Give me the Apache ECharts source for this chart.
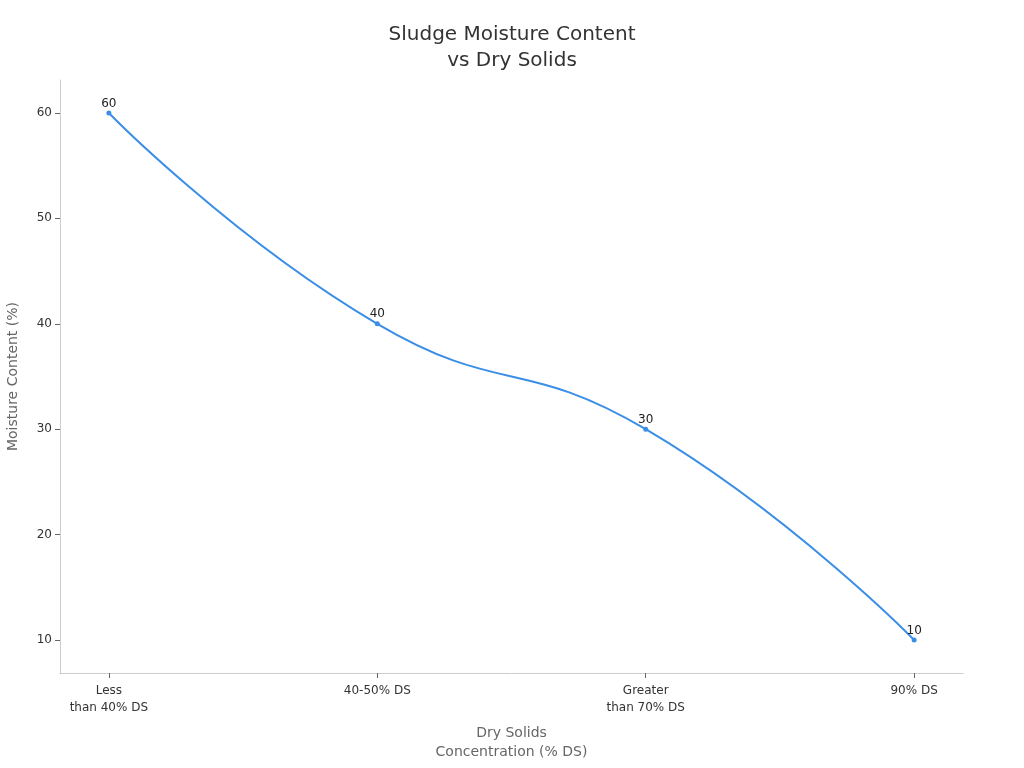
<!DOCTYPE html>
<html>
<head>
<meta charset="utf-8">
<title>Sludge Moisture Content vs Dry Solids</title>
<script src="https://cdn.jsdelivr.net/npm/echarts@6/dist/echarts.min.js"></script>
<style>
    html, body { margin: 0; padding: 0; background: #fff; }
    #chart { width: 1024px; height: 768px; }
</style>
</head>
<body>
<div id="chart"></div>
<script>
// Data
var categories = ['Less\nthan 40% DS', '40-50% DS', 'Greater\nthan 70% DS', '90% DS'];
var moisture = [60, 40, 30, 10];
var yTicks = [10, 20, 30, 40, 50, 60];

var points = moisture.map(function (v, i) { return [i, v]; });

var chart = echarts.init(document.getElementById('chart'));
var option = {
    // Title
    title: {
        text: 'Sludge Moisture Content\nvs Dry Solids',
        left: 'center',
        top: 17,
        textStyle: {
            fontFamily: 'DejaVu Sans',
            fontSize: 20,
            fontWeight: 'normal',
            color: '#333',
            lineHeight: 26
        }
    },
    grid: { left: 60, right: 61, top: 80, bottom: 95, outerBoundsMode: 'none', containLabel: false },
    xAxis: {
        type: 'value',
        min: -0.182,
        max: 3.182,
        name: 'Dry Solids\nConcentration (% DS)',
        nameLocation: 'middle',
        nameGap: 51,
        nameTextStyle: { fontFamily: 'DejaVu Sans', fontSize: 14, color: '#666', lineHeight: 19 },
        splitLine: { show: false },
        axisLine: { onZero: false, lineStyle: { color: '#ccc' } },
        axisTick: { show: true, length: 5, lineStyle: { color: '#666' }, customValues: [0, 1, 2, 3] },
        axisLabel: {
            customValues: [0, 1, 2, 3],
            fontFamily: 'DejaVu Sans',
            fontSize: 12,
            color: '#333',
            lineHeight: 17,
            margin: 9,
            formatter: function (v) { return categories[Math.round(v)]; }
        }
    },
    yAxis: {
        type: 'value',
        min: 6.875,
        max: 63.125,
        name: 'Moisture Content (%)',
        nameLocation: 'middle',
        nameGap: 40,
        nameTextStyle: { fontFamily: 'DejaVu Sans', fontSize: 14, color: '#666' },
        splitLine: { show: false },
        axisLine: { show: true, onZero: false, lineStyle: { color: '#ccc' } },
        axisTick: { show: true, length: 5, lineStyle: { color: '#666' }, customValues: yTicks },
        axisLabel: {
            customValues: yTicks,
            fontFamily: 'DejaVu Sans',
            fontSize: 12,
            color: '#333',
            margin: 8
        }
    },
    series: [{
        type: 'line',
        data: points,
        smooth: true,
        symbol: 'circle',
        symbolSize: 5,
        itemStyle: { color: '#3a8ee6' },
        lineStyle: { color: '#3a8ee6', width: 2 },
        label: {
            show: true,
            position: 'top',
            distance: 1,
            fontFamily: 'DejaVu Sans',
            fontSize: 12,
            color: '#222',
            formatter: function (p) { return p.value[1]; }
        }
    }]
};
chart.setOption(option);
</script>
</body>
</html>
